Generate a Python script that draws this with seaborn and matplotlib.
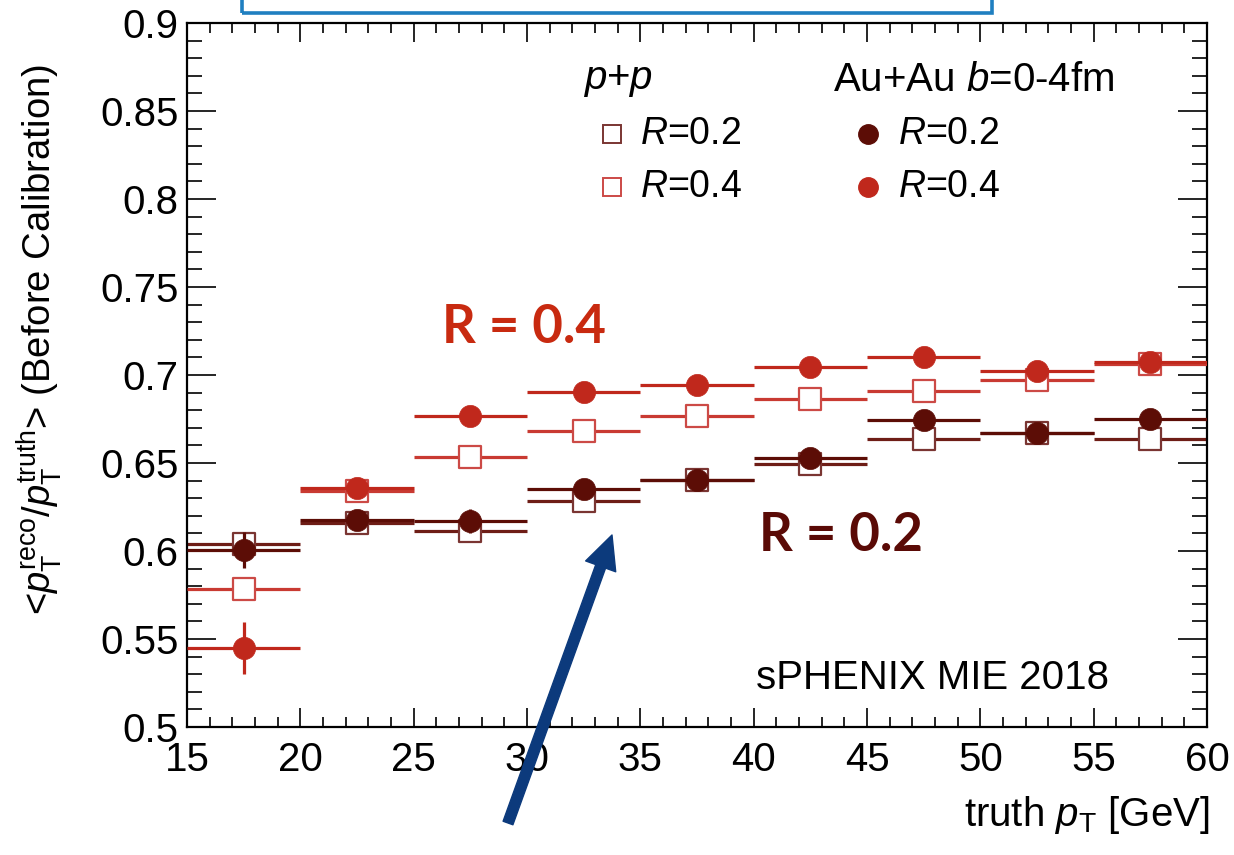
import numpy as np
import pandas as pd
import matplotlib
matplotlib.use("Agg")
import matplotlib.pyplot as plt
import matplotlib.patches as mpatches
from matplotlib.ticker import MultipleLocator
import seaborn as sns

# ---------------- data ----------------
pt_centers = [17.5, 22.5, 27.5, 32.5, 37.5, 42.5, 47.5, 52.5, 57.5]
pt_halfwidth = [2.5] * 9

pp_r02 = [0.6037, 0.6159, 0.6114, 0.6284, 0.6403, 0.6494, 0.6636, 0.6670, 0.6636]
pp_r04 = [0.5784, 0.6340, 0.6534, 0.6682, 0.6767, 0.6864, 0.6909, 0.6972, 0.7060]
aa_r02 = [0.6006, 0.6176, 0.6170, 0.6352, 0.6403, 0.6528, 0.6744, 0.6670, 0.6750]
aa_r04 = [0.5449, 0.6358, 0.6767, 0.6903, 0.6943, 0.7045, 0.7102, 0.7023, 0.7074]

pp_r02_err = [0.002] * 9
pp_r04_err = [0.002] * 9
aa_r02_err = [0.010, 0.004, 0.007, 0.003, 0.003, 0.003, 0.003, 0.003, 0.003]
aa_r04_err = [0.015, 0.004, 0.004, 0.003, 0.003, 0.003, 0.003, 0.003, 0.003]

x_ticks = [15, 20, 25, 30, 35, 40, 45, 50, 55, 60]
y_ticks = [0.5, 0.55, 0.6, 0.65, 0.7, 0.75, 0.8, 0.85, 0.9]
y_tick_labels = ["0.5", "0.55", "0.6", "0.65", "0.7", "0.75", "0.8", "0.85", "0.9"]

# ---------------- style ----------------
sns.set_theme(style="ticks")
plt.rcParams["font.family"] = ["Liberation Sans", "DejaVu Sans"]
plt.rcParams["mathtext.fontset"] = "custom"
plt.rcParams["mathtext.rm"] = "Liberation Sans"
plt.rcParams["mathtext.it"] = "Liberation Sans:italic"
plt.rcParams["mathtext.bf"] = "Liberation Sans:bold"
plt.rcParams["text.color"] = "black"
plt.rcParams["axes.labelcolor"] = "black"
plt.rcParams["xtick.color"] = "black"
plt.rcParams["ytick.color"] = "black"

C_AA04 = "#c0281c"
C_AA02 = "#5c0d06"
C_PP04 = "#c93a32"
C_PP02 = "#6e1d16"
C_PP04_EDGE = "#cc4a46"
C_PP02_EDGE = "#7a3532"

fig = plt.figure(figsize=(12.34, 8.55), dpi=100)
ax = fig.add_axes([187 / 1234, 1 - 727 / 855, 1020 / 1234, 704 / 855])

series = [
    ("pp_r02", pp_r02, pp_r02_err, C_PP02, C_PP02_EDGE, "s"),
    ("pp_r04", pp_r04, pp_r04_err, C_PP04, C_PP04_EDGE, "s"),
    ("aa_r02", aa_r02, aa_r02_err, C_AA02, C_AA02, "o"),
    ("aa_r04", aa_r04, aa_r04_err, C_AA04, C_AA04, "o"),
]

z = 2
for name, vals, err, lc, ec, mk in series:
    df = pd.DataFrame({"pt": pt_centers, "val": vals})
    ax.errorbar(pt_centers, vals, xerr=pt_halfwidth, yerr=err, fmt="none",
                ecolor=lc, elinewidth=2.3, capsize=0, zorder=z)
    if mk == "s":
        sns.scatterplot(data=df, x="pt", y="val", marker="s", s=250,
                        color="white", edgecolor=ec, linewidth=1.6,
                        ax=ax, zorder=z + 1, legend=False)
    else:
        sns.scatterplot(data=df, x="pt", y="val", marker="o", s=256,
                        color=lc, edgecolor=lc, linewidth=0.5,
                        ax=ax, zorder=z + 1, legend=False)
    z += 2

# ---------------- axes ----------------
ax.set_xlim(15, 60)
ax.set_ylim(0.5, 0.9)
ax.set_xticks(x_ticks)
ax.set_xticklabels([str(t) for t in x_ticks])
ax.set_yticks(y_ticks)
ax.set_yticklabels(y_tick_labels)
ax.xaxis.set_minor_locator(MultipleLocator(1))
ax.yaxis.set_minor_locator(MultipleLocator(0.01))
ax.tick_params(axis="x", which="major", direction="in", length=14, width=1.2,
               top=True, bottom=True, labelsize=29, pad=10)
ax.tick_params(axis="x", which="minor", direction="in", length=7, width=1.2,
               top=True, bottom=True)
ax.tick_params(axis="y", which="major", direction="in", length=21, width=1.2,
               left=True, right=True, labelsize=29, pad=6)
ax.tick_params(axis="y", which="minor", direction="in", length=10.5, width=1.2,
               left=True, right=True)
for sp in ax.spines.values():
    sp.set_visible(True)
    sp.set_linewidth(1.6)
    sp.set_color("black")
ax.set_facecolor("white")
ax.grid(False)

ax.set_ylabel(r"<$p_{\mathrm{T}}^{\mathrm{reco}}$/$p_{\mathrm{T}}^{\mathrm{truth}}$> (Before Calibration)",
              fontsize=27.5)
ax.yaxis.set_label_coords(-0.121, 0.55)
ax.set_xlabel(r"truth $p_{\mathrm{T}}$ [GeV]", fontsize=29, ha="right")
ax.xaxis.set_label_coords(1.003, -0.095)

# ---------------- legend (manual, ROOT-style) ----------------
tr = ax.transAxes
ax.text(0.388, 0.919, r"$p$+$p$", transform=tr, fontsize=29, va="center", ha="left")
ax.text(0.633, 0.919, r"Au+Au $b$=0-4fm", transform=tr, fontsize=29, va="center", ha="left")
leg_rows = [0.843, 0.767]
ax.plot([0.4167], [leg_rows[0]], marker="s", ms=13, mfc="white", mec=C_PP02_EDGE,
        mew=1.4, transform=tr, clip_on=False, ls="none")
ax.plot([0.4167], [leg_rows[1]], marker="s", ms=13, mfc="white", mec=C_PP04_EDGE,
        mew=1.4, transform=tr, clip_on=False, ls="none")
ax.plot([0.6676], [leg_rows[0]], marker="o", ms=14, mfc=C_AA02, mec=C_AA02,
        transform=tr, clip_on=False, ls="none")
ax.plot([0.6676], [leg_rows[1]], marker="o", ms=14, mfc=C_AA04, mec=C_AA04,
        transform=tr, clip_on=False, ls="none")
for yy, lab in zip(leg_rows, [r"$R$=0.2", r"$R$=0.4"]):
    ax.text(0.444, yy, lab, transform=tr, fontsize=27, va="center", ha="left")
    ax.text(0.697, yy, lab, transform=tr, fontsize=27, va="center", ha="left")

# ---------------- annotations ----------------
ax.text(0.330, 0.568, "R = 0.4", transform=tr, fontsize=38, fontweight="bold",
        family=["Lato", "DejaVu Sans"], color="#c82a10", ha="center", va="center")
ax.text(0.641, 0.272, "R = 0.2", transform=tr, fontsize=38, fontweight="bold",
        family=["Lato", "DejaVu Sans"], color="#5a0a06", ha="center", va="center")
ax.text(0.731, 0.070, "sPHENIX MIE 2018", transform=tr, fontsize=29,
        ha="center", va="center")

# blue box at top (partially cut off)
rect = mpatches.Rectangle((242 / 1234, 1 - 13 / 855), (992 - 242) / 1234, 0.05,
                          transform=fig.transFigure, fill=False,
                          edgecolor="#1f7fc0", linewidth=2.6, clip_on=False)
fig.add_artist(rect)

# dark blue arrow
arrow = mpatches.FancyArrowPatch(
    posA=(508 / 1234, 1 - 823 / 855), posB=(612 / 1234, 1 - 535 / 855),
    transform=fig.transFigure,
    arrowstyle="simple,head_length=2.4,head_width=2.3,tail_width=0.75",
    mutation_scale=10, color="#0c3a7c", shrinkA=0, shrinkB=0, zorder=20)
fig.add_artist(arrow)

fig.savefig("out.png", dpi=100, facecolor="white")
